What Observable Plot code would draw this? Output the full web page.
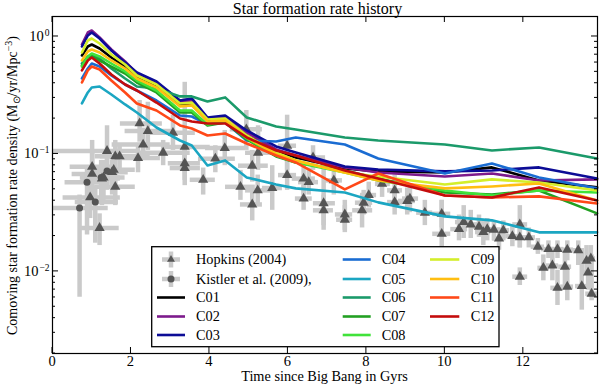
<!DOCTYPE html>
<html><head><meta charset="utf-8">
<script src="https://cdn.jsdelivr.net/npm/d3@7"></script>
<script src="https://cdn.jsdelivr.net/npm/@observablehq/plot@0.6"></script>
<style>body{margin:0;background:#fff} svg{display:block}</style>
</head><body><div id="chart"></div>
<script>
// ---- simulated star formation histories (time in Gyr, SFR density in Msun/yr/Mpc^3)
const times = [0.75, 0.9, 1.0, 1.2, 1.5, 1.85, 2.15, 2.65, 3.25, 3.55, 3.95, 4.4, 4.95, 5.7, 6.2, 7.45, 8.3, 10.0, 11.2, 12.4, 13.88];
const C01 = [0.689,0.822,0.855,0.790,0.663,0.555,0.448,0.383,0.264,0.264,0.193,0.197,0.144,0.107,0.0934,0.0753,0.0710,0.0696,0.0768,0.0595,0.0519];
const C02 = [0.855,1.081,1.125,0.981,0.775,0.613,0.484,0.406,0.280,0.285,0.2005,0.2044,0.1524,0.1092,0.0971,0.0768,0.0696,0.0643,0.0682,0.0595,0.0607];
const C03 = [0.822,1.020,1.081,0.962,0.760,0.601,0.494,0.414,0.285,0.297,0.2044,0.2126,0.1585,0.1158,0.1030,0.0783,0.0738,0.0710,0.0724,0.0768,0.0619];
const C04 = [0.439,0.534,0.589,0.555,0.466,0.390,0.347,0.285,0.2126,0.2085,0.1783,0.1854,0.1302,0.1277,0.1382,0.1204,0.0916,0.0682,0.0830,0.0631,0.0509];
const C05 = [0.269,0.334,0.368,0.375,0.321,0.264,0.2255,0.168,0.1302,0.1181,0.0798,0.0881,0.0631,0.0550,0.0509,0.0470,0.0387,0.0294,0.0272,0.0215,0.0215];
const C06 = [0.589,0.676,0.689,0.650,0.534,0.439,0.375,0.361,0.309,0.309,0.280,0.303,0.2044,0.1714,0.1616,0.1382,0.1302,0.1204,0.1071,0.1136,0.0916];
const C07 = [0.566,0.663,0.676,0.625,0.555,0.484,0.406,0.334,0.2255,0.2255,0.1748,0.1854,0.1328,0.0952,0.0847,0.0724,0.0619,0.0470,0.0452,0.0489,0.0312];
const C08 = [0.555,0.676,0.717,0.676,0.589,0.504,0.422,0.347,0.2345,0.2345,0.1783,0.1891,0.1355,0.0971,0.0847,0.0696,0.0595,0.0489,0.0443,0.0489,0.0470];
const C09 = [0.731,0.925,0.962,0.872,0.703,0.578,0.466,0.390,0.269,0.274,0.1966,0.2005,0.1437,0.1030,0.0881,0.0696,0.0643,0.0550,0.0607,0.0572,0.0489];
const C10 = [0.625,0.745,0.775,0.731,0.625,0.534,0.439,0.368,0.254,0.259,0.1891,0.1928,0.1382,0.0990,0.0881,0.0696,0.0595,0.0509,0.0529,0.0561,0.0402];
const C11 = [0.406,0.514,0.555,0.524,0.422,0.334,0.269,0.2345,0.1748,0.1648,0.1437,0.1494,0.1228,0.0971,0.0847,0.0499,0.0682,0.0443,0.0426,0.0435,0.0379];
const C12 = [0.514,0.625,0.663,0.589,0.475,0.390,0.347,0.274,0.2005,0.1891,0.1818,0.1818,0.1382,0.1071,0.0971,0.0724,0.0619,0.0443,0.0426,0.0519,0.0402];
const seriesNames = ["C01","C02","C03","C04","C05","C06","C07","C08","C09","C10","C11","C12"];
const seriesValues = [C01,C02,C03,C04,C05,C06,C07,C08,C09,C10,C11,C12];
const seriesColors = ["#000000","#7d1a8c","#0c0c96","#1a6cd2","#1ba6c2","#1b9a6a","#22a022","#40e23a","#d4ee2a","#ffbe12","#ff4818","#c40c0c"];

// ---- Hopkins (2004): time [Gyr], bar ends [Gyr], log10 SFR density and bar ends
const hopT   = [1.39,1.60,1.71,1.01,1.01,1.56,1.52,1.30,1.26,1.60,0.96,1.20,2.22,2.43,2.31,2.18,2.82,3.07,3.37,3.37,3.37,3.84,4.15,4.39,4.94,5.24,5.09,4.79,5.23,5.09,5.60,5.98,5.98,6.40,6.53,6.40,6.64,6.91,6.91,7.17,7.45,7.45,7.89,7.93,8.06,8.40,8.72,8.72,9.04,9.11,9.49,9.92,9.92,10.36,10.48,10.66,10.87,10.98,11.08,11.25,11.38,11.49,11.72,11.91,11.91,12.14,12.37,12.64,12.87,13.12,13.40,13.61,13.72,12.51,12.74,13.06,13.65,11.91,12.87,13.12,13.49,13.74];
const hopTLo = [0.02,1.09,1.22,0.45,0.50,1.09,0.91,0.71,0.78,1.09,0.27,0.73,1.73,1.85,1.52,1.60,2.24,2.49,2.87,2.95,3.00,3.51,3.72,3.90,4.53,4.92,4.74,4.41,4.92,4.79,5.35,5.76,5.76,6.11,6.27,6.19,6.32,6.65,6.65,6.96,7.21,7.24,7.65,7.72,7.85,8.23,8.54,8.54,8.82,8.92,9.28,9.69,9.69,10.15,10.27,10.45,10.66,10.78,10.91,11.06,11.22,11.32,11.55,11.73,11.75,11.98,12.20,12.46,12.70,12.95,13.26,13.46,13.59,12.37,12.59,12.90,13.51,11.73,12.70,12.95,13.33,13.59];
const hopTHi = [2.16,2.49,2.24,1.52,1.47,2.11,1.93,1.85,1.73,2.11,1.73,1.70,2.80,3.13,3.00,2.75,3.51,3.64,4.02,3.77,3.77,4.15,4.66,4.92,5.35,5.60,5.50,5.17,5.60,5.35,5.86,6.22,6.22,6.70,6.78,6.62,6.96,7.21,7.16,7.39,7.65,7.65,8.16,8.16,8.26,8.61,8.92,8.92,9.25,9.33,9.69,10.15,10.15,10.58,10.71,10.86,11.06,11.17,11.27,11.42,11.52,11.65,11.88,12.11,12.09,12.31,12.54,12.79,13.03,13.28,13.56,13.77,13.84,12.67,12.90,13.23,13.79,12.11,13.03,13.28,13.64,13.89];
const hopLogSfr = [-0.975,-1.02,-1.02,-1.11,-1.17,-1.135,-1.155,-1.20,-1.21,-1.28,-1.37,-1.63,-0.74,-0.805,-0.92,-1.035,-0.99,-0.82,-0.94,-1.08,-1.12,-1.22,-1.04,-0.95,-0.79,-0.99,-1.10,-1.28,-1.31,-1.43,-1.29,-0.93,-1.18,-1.21,-1.24,-1.38,-1.03,-1.42,-1.48,-1.225,-1.515,-1.56,-1.48,-1.415,-1.35,-1.255,-1.31,-1.41,-1.40,-1.38,-1.50,-1.51,-1.68,-1.64,-1.58,-1.60,-1.62,-1.665,-1.64,-1.645,-1.72,-1.65,-1.70,-1.60,-1.71,-1.71,-1.79,-1.81,-1.81,-1.815,-1.82,-1.91,-1.89,-1.97,-1.95,-1.96,-2.01,-2.045,-2.14,-2.13,-2.125,-2.19];
const hopLogLo = [-1.20,-1.16,-1.14,-1.35,-1.395,-1.31,-1.35,-1.395,-1.44,-1.44,-1.55,-1.78,-0.90,-0.97,-1.055,-1.16,-1.10,-0.97,-1.12,-1.225,-1.27,-1.35,-1.16,-1.10,-0.97,-1.14,-1.24,-1.395,-1.44,-1.57,-1.48,-1.14,-1.31,-1.35,-1.35,-1.48,-1.14,-1.65,-1.61,-1.35,-1.65,-1.67,-1.63,-1.52,-1.46,-1.37,-1.44,-1.52,-1.52,-1.50,-1.61,-1.63,-1.82,-1.74,-1.72,-1.72,-1.71,-1.78,-1.74,-1.74,-1.82,-1.74,-1.79,-1.80,-1.80,-1.80,-1.855,-1.89,-1.89,-1.91,-1.95,-2.03,-1.99,-2.08,-2.08,-2.12,-2.16,-2.12,-2.29,-2.25,-2.33,-2.25];
const hopLogHi = [-0.76,-0.885,-0.93,-0.885,-0.97,-1.01,-1.055,-1.055,-1.10,-1.12,-1.225,-1.51,-0.545,-0.56,-0.78,-0.91,-0.885,-0.67,-0.39,-0.95,-1.01,-1.12,-0.93,-0.80,-0.63,-0.76,-0.97,-1.14,-1.18,-1.31,-1.10,-0.67,-1.055,-1.10,-1.12,-1.27,-0.93,-1.055,-1.35,-1.12,-1.395,-1.44,-1.35,-1.31,-1.24,-1.14,-1.18,-1.31,-1.29,-1.27,-1.395,-1.395,-1.395,-1.52,-1.44,-1.48,-1.52,-1.57,-1.55,-1.57,-1.63,-1.57,-1.62,-1.44,-1.63,-1.63,-1.72,-1.74,-1.74,-1.74,-1.74,-1.78,-1.78,-1.86,-1.82,-1.82,-1.89,-1.97,-1.99,-1.99,-1.82,-1.86];

// ---- Kistler et al. (2009)
const kisT   = [0.69,0.88,1.09,1.24,1.39];
const kisTLo = [0.02,0.32,0.58,0.73,0.96];
const kisTHi = [1.42,1.47,1.68,1.73,1.85];
const kisLogSfr = [-1.46,-1.24,-1.41,-1.20,-1.145];
const kisLogLo  = [-2.22,-1.69,-1.76,-1.395,-1.31];
const kisLogHi  = [-1.35,-1.10,-1.27,-1.055,-0.97];

// ---- axes
const xTicks = [0,2,4,6,8,10,12];
const yTicks = [0.01,0.1,1];
const yTickExp = ["\u22122","\u22121","0"];
const titleText = "Star formation rate history";
const xLabel = "Time since Big Bang in Gyrs";
const obsNames = ["Hopkins (2004)", "Kistler et al. (2009),"];

// ---- tables
const lineRows = [];
seriesNames.forEach((name, i) => times.forEach((t, j) => lineRows.push({name, t, v: seriesValues[i][j]})));
const mk = (T, TL, TH, L, LL, LH) => T.map((t, i) => ({t, lo: TL[i], hi: TH[i], v: 10 ** L[i], vlo: 10 ** LL[i], vhi: 10 ** LH[i]}));
const hop = mk(hopT, hopTLo, hopTHi, hopLogSfr, hopLogLo, hopLogHi);
const kis = mk(kisT, kisTLo, kisTHi, kisLogSfr, kisLogLo, kisLogHi);
const obs = hop.concat(kis);

const barColor = "#cacaca", markColor = "#555555";
const font = "Liberation Serif";

const plot = Plot.plot({
  width: 600, height: 384,
  marginLeft: 52, marginRight: 3, marginTop: 16, marginBottom: 31,
  style: {background: "white", fontFamily: font},
  x: {domain: [0, 13.89], axis: null},
  y: {type: "log", domain: [0.002, 1.48], axis: null},
  color: {domain: seriesNames, range: seriesColors},
  marks: [
    Plot.ruleY(obs, {y: "v", x1: "lo", x2: "hi", stroke: barColor, strokeWidth: 4.5}),
    Plot.ruleX(obs, {x: "t", y1: "vlo", y2: "vhi", stroke: barColor, strokeWidth: 4.5}),
    Plot.dot(hop, {x: "t", y: "v", symbol: "triangle", r: 3.8, fill: markColor, stroke: "none"}),
    Plot.dot(kis, {x: "t", y: "v", symbol: "circle", r: 3.5, fill: markColor, stroke: "none"}),
    Plot.line(lineRows, {x: "t", y: "v", z: "name", stroke: "name", strokeWidth: 2.6}),
    Plot.frame({stroke: "black", strokeWidth: 1.2})
  ]
});
document.getElementById("chart").append(plot);

// ---- matplotlib-style inward ticks, labels, legend
const svg = d3.select(plot);
const X = plot.scale("x"), Y = plot.scale("y");
const [L, R] = X.range;
const [B, T] = Y.range;
const g = svg.append("g").attr("stroke", "black").attr("stroke-width", 1);
xTicks.forEach(v => {
  const x = X.apply(v);
  g.append("line").attr("x1", x).attr("x2", x).attr("y1", B).attr("y2", B - 6);
  g.append("line").attr("x1", x).attr("x2", x).attr("y1", T).attr("y2", T + 6);
});
yTicks.forEach(v => {
  const y = Y.apply(v);
  g.append("line").attr("x1", L).attr("x2", L + 6).attr("y1", y).attr("y2", y);
  g.append("line").attr("x1", R).attr("x2", R - 6).attr("y1", y).attr("y2", y);
});
const minor = d3.scaleLog().domain(Y.domain).ticks().filter(v => !yTicks.some(m => Math.abs(m - v) / v < 1e-6));
minor.forEach(v => {
  const y = Y.apply(v);
  g.append("line").attr("x1", L).attr("x2", L + 3).attr("y1", y).attr("y2", y);
  g.append("line").attr("x1", R).attr("x2", R - 3).attr("y1", y).attr("y2", y);
});
const txt = svg.append("g").attr("font-family", font).attr("fill", "black");
xTicks.forEach(v => {
  txt.append("text").attr("x", X.apply(v)).attr("y", B + 12.5).attr("text-anchor", "middle").attr("font-size", 14.5).text(v);
});
yTicks.forEach((v, i) => {
  const t = txt.append("text").attr("x", 49.5).attr("y", Y.apply(v) + 5).attr("text-anchor", "end").attr("font-size", 14.5);
  t.append("tspan").text("10");
  t.append("tspan").attr("font-size", 9.5).attr("dy", -5).attr("dx", 1).text(yTickExp[i]);
});
txt.append("text").attr("x", 317.5).attr("y", 13.5).attr("text-anchor", "middle").attr("font-size", 16).text(titleText);
txt.append("text").attr("x", (L + R) / 2).attr("y", 380.5).attr("text-anchor", "middle").attr("font-size", 14.3).text(xLabel);
const yl = txt.append("text").attr("transform", `translate(16.5,${(T + B) / 2 + 1}) rotate(-90)`).attr("text-anchor", "middle").attr("font-size", 14);
yl.append("tspan").text("Comoving star formation rate density (M");
yl.append("tspan").attr("font-size", 10).attr("dy", 3).text("\u2299");
yl.append("tspan").attr("dy", -3).text("/yr/Mpc");
yl.append("tspan").attr("font-size", 10).attr("dy", -5).text("\u22123");
yl.append("tspan").attr("dy", 5).text(")");

// legend
const lg = svg.append("g").attr("text-anchor", "start");
lg.append("rect").attr("x", 151.7).attr("y", 246.7).attr("width", 347.3).attr("height", 100)
  .attr("fill", "#ffffff").attr("stroke", "#000000").attr("stroke-width", 1.3);
const rows = [259.5, 279, 297.5, 316.5, 335];
const triPath = d3.symbol(d3.symbolTriangle2, Math.PI * 3.8 * 3.8)();
const circPath = d3.symbol(d3.symbolCircle, Math.PI * 3.5 * 3.5)();
obsNames.forEach((name, i) => {
  const y = rows[i];
  lg.append("line").attr("x1", 162).attr("x2", 180).attr("y1", y).attr("y2", y).attr("stroke", barColor).attr("stroke-width", 4.5);
  lg.append("line").attr("x1", 171).attr("x2", 171).attr("y1", y - 8).attr("y2", y + 8).attr("stroke", barColor).attr("stroke-width", 4.5);
  lg.append("path").attr("d", i === 0 ? triPath : circPath).attr("transform", `translate(171,${y})`).attr("fill", markColor);
  lg.append("text").attr("x", 196).attr("y", y + 4.8).attr("text-anchor", "start").attr("font-family", font).attr("font-size", 14.3).attr("fill", "black").text(name);
});
const cols = [[157, 185, 196], [342.7, 370.7, 381.7], [430, 459.3, 470.7]];
seriesNames.forEach((name, i) => {
  let c, r;
  if (i < 3) { c = 0; r = i + 2; } else if (i < 8) { c = 1; r = i - 3; } else { c = 2; r = i - 8; }
  const y = rows[r];
  lg.append("line").attr("x1", cols[c][0]).attr("x2", cols[c][1]).attr("y1", y).attr("y2", y)
    .attr("stroke", seriesColors[i]).attr("stroke-width", 2.6);
  lg.append("text").attr("x", cols[c][2]).attr("y", y + 4.8).attr("text-anchor", "start").attr("font-family", font).attr("font-size", 14.3).attr("fill", "black").text(name);
});
</script>
</body></html>
